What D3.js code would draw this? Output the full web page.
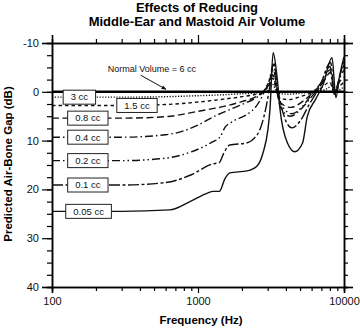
<!DOCTYPE html>
<html>
<head>
<meta charset="utf-8">
<script src="https://cdn.jsdelivr.net/npm/d3@7"></script>
<style>
  body { margin: 0; background: #fff; }
  svg { display: block; font-family: 'Liberation Sans', Arial, Helvetica, sans-serif; }
</style>
</head>
<body>
<div id="chart"></div>
<script>
// volumes, top to bottom
const volumes = ['3 cc', '1.5 cc', '0.8 cc', '0.4 cc', '0.2 cc', '0.1 cc', '0.05 cc']

// [frequency Hz, air-bone gap dB]
const gap3cc = [
  [100, 1.1], [300, 1.1], [600, 1.0], [1000, 0.8], [1500, 0.6], [2000, 0.4],
  [2600, 0.2], [2900, 0], [3100, -0.6], [3250, -1.5], [3400, -0.4], [3600, 0.3],
  [4200, 0.5], [5000, 0.3], [6000, 0], [7500, -0.5], [8300, -1.2], [8800, -0.2],
  [10000, -1]
]
const gap1p5cc = [
  [100, 2.8], [300, 2.8], [600, 2.6], [1000, 2.1], [1500, 1.5], [2000, 1.0],
  [2600, 0.3], [2900, -0.5], [3100, -1.4], [3250, -2.8], [3400, -1], [3600, 1.2],
  [4200, 1.6], [5000, 1.0], [6000, 0.2], [7000, -0.8], [8000, -2], [8500, 0],
  [9200, -1], [10000, -2]
]
const gap0p8cc = [
  [100, 5.4], [300, 5.4], [600, 5.1], [1000, 4.0], [1500, 3.0], [2000, 2.0],
  [2500, 1.0], [2900, -0.5], [3100, -1.8], [3250, -3.5], [3400, -1.5], [3600, 2],
  [4300, 3.2], [5200, 2.0], [6200, 0], [7200, -2], [8100, -4], [8600, 0],
  [9300, -2], [10000, -3]
]
const gap0p4cc = [
  [100, 9.3], [300, 9.3], [600, 8.8], [800, 8], [1000, 6.8], [1300, 5],
  [1600, 3.8], [2000, 2.6], [2500, 1.2], [2800, 0], [3050, -2], [3300, -4.5],
  [3450, -1], [3650, 3], [4300, 5], [5200, 3.2], [6000, 1], [7000, -1.5],
  [8000, -4.5], [8600, 0], [9400, -3], [10000, -4.5]
]
const gap0p2cc = [
  [100, 14.1], [300, 14.1], [600, 13.6], [900, 12.3], [1250, 10.3], [1420, 9.2],
  [1530, 7.3], [1700, 6.2], [2150, 4.7], [2500, 3.0], [2800, 0.5], [3050, -2],
  [3300, -5.5], [3450, -1], [3700, 2.5], [4400, 4.5], [5200, 3], [6000, 0.5],
  [7000, -2], [8000, -5.2], [8600, 0.5], [9400, -3.5], [10000, -5.5]
]
const gap0p1cc = [
  [100, 19.1], [300, 19.1], [600, 18.6], [900, 17], [1250, 14.8], [1400, 14.5],
  [1500, 12.6], [1650, 10.9], [2150, 10.5], [2450, 9.4], [2650, 7.8], [2900, 3.7],
  [3100, -1], [3300, -6], [3500, -1], [3800, 4], [4400, 7.4], [5000, 6],
  [5800, 2.5], [6800, -1], [8100, -6], [8600, 0.5], [9500, -4], [10000, -6.5]
]
const gap0p05cc = [
  [100, 24.5], [300, 24.5], [640, 24.2], [880, 22.5], [1150, 20.8], [1270, 20.4],
  [1400, 20.4], [1530, 17.8], [1650, 16.6], [2170, 16.2], [2540, 15.2], [2790, 12.5],
  [3010, 7.8], [3110, 3.7], [3270, -8], [3480, -3], [3650, 3.7], [4100, 10.5],
  [4600, 12.3], [5200, 10.5], [5600, 5.1], [6400, 1.5], [7200, -1.5], [8280, -7],
  [8800, 1.2], [9300, -3], [10000, -7.2]
]
const gapNormal = [[100, 0], [10000, 0]]

const series = [gap3cc, gap1p5cc, gap0p8cc, gap0p4cc, gap0p2cc, gap0p1cc, gap0p05cc]

// where along each curve the label box sits (Hz)
const labelFreqs = [154, 382, 176, 176, 176, 176, 178]

const xMajorTicks = [100, 1000, 10000]
const xMinorTicks = [200, 300, 400, 500, 600, 700, 800, 900, 2000, 3000, 4000, 5000, 6000, 7000, 8000, 9000]
const yMajorTicks = [-10, 0, 10, 20, 30, 40]
const yMinorTicks = d3.range(-10, 40.1, 2.5)

const dashes = ['1.2,1.6', '3.5,3', '7,3.5', '8,3,1.5,3', '8,3,1.5,3,1.5,3', '11,2.5,3,2.5', null]

const margin = { top: 43, left: 52, right: 16, bottom: 42 }
const width = 360 - margin.left - margin.right
const height = 329 - margin.top - margin.bottom

const svg = d3
  .select('#chart')
  .append('svg')
  .attr('width', 360)
  .attr('height', 329)

const holder = svg
  .append('g')
  .attr('transform', `translate(${margin.left},${margin.top})`)

const xScale = d3.scaleLog().domain([100, 10000]).range([0, width])
const yScale = d3.scaleLinear().domain([-10, 40]).range([0, height])

const line = d3
  .line()
  .x(d => xScale(d[0]))
  .y(d => yScale(d[1]))
  .curve(d3.curveMonotoneX)

// axes: minor ticks first, then majors with labels
function styleAxis(g) {
  g.selectAll('path').attr('stroke-width', 1.5)
  g.selectAll('line').attr('stroke-width', 1.2)
  g.selectAll('text')
    .attr('font-size', 11)
    .attr('font-family', 'Liberation Sans, Arial, sans-serif')
    .attr('fill', '#111')
}

holder.append('g')
  .call(d3.axisLeft(yScale).tickValues(yMinorTicks).tickSize(5).tickFormat(''))
  .call(styleAxis)
holder.append('g')
  .call(d3.axisLeft(yScale).tickValues(yMajorTicks).tickSize(10).tickPadding(3).tickFormat(d => String(d)))
  .call(styleAxis)

holder.append('g')
  .attr('transform', `translate(${width},0)`)
  .call(d3.axisRight(yScale).tickValues(yMinorTicks).tickSize(4).tickFormat(''))
  .call(styleAxis)
holder.append('g')
  .attr('transform', `translate(${width},0)`)
  .call(d3.axisRight(yScale).tickValues(yMajorTicks).tickSize(9).tickFormat(''))
  .call(styleAxis)

holder.append('g')
  .call(d3.axisTop(xScale).tickValues(xMinorTicks).tickSize(4).tickFormat(''))
  .call(styleAxis)
holder.append('g')
  .call(d3.axisTop(xScale).tickValues(xMajorTicks).tickSize(8).tickFormat(''))
  .call(styleAxis)

holder.append('g')
  .attr('transform', `translate(0,${height})`)
  .call(d3.axisBottom(xScale).tickValues(xMinorTicks).tickSize(4).tickFormat(''))
  .call(styleAxis)
holder.append('g')
  .attr('transform', `translate(0,${height})`)
  .call(d3.axisBottom(xScale).tickValues(xMajorTicks).tickSize(6).tickPadding(4).tickFormat(d3.format('d')))
  .call(styleAxis)

// curves
const curves = holder.append('g')

curves
  .selectAll('.gap-line')
  .data(series)
  .enter()
  .append('path')
  .attr('class', 'gap-line')
  .attr('d', line)
  .attr('fill', 'none')
  .attr('stroke', '#111')
  .attr('stroke-width', 1.4)
  .attr('stroke-dasharray', (d, i) => dashes[i])

curves
  .append('path')
  .datum(gapNormal)
  .attr('d', line)
  .attr('fill', 'none')
  .attr('stroke', '#000')
  .attr('stroke-width', 2.6)

// label boxes
const labels = holder
  .selectAll('.vol-label')
  .data(volumes)
  .enter()
  .append('g')
  .attr('class', 'vol-label')
  .attr('transform', (d, i) => {
    const f = labelFreqs[i]
    const y = yScale(series[i][0][1])
    return `translate(${xScale(f)},${y})`
  })

labels.append('rect')
labels
  .append('text')
  .text(d => d)
  .attr('font-size', 9.5)
  .attr('text-anchor', 'middle')
  .attr('dy', '0.35em')
  .attr('fill', '#111')

labels.each(function() {
  const g = d3.select(this)
  const w = g.select('text').node().getComputedTextLength() + 15
  g.select('rect')
    .attr('x', -w / 2)
    .attr('y', -7)
    .attr('width', w)
    .attr('height', 14)
    .attr('fill', '#fff')
    .attr('stroke', '#222')
    .attr('stroke-width', 1)
})

// normal volume note
holder
  .append('text')
  .text('Normal Volume = 6 cc')
  .attr('x', xScale(484))
  .attr('y', yScale(-4.7))
  .attr('dy', '0.35em')
  .attr('text-anchor', 'middle')
  .attr('font-size', 9)
  .attr('fill', '#111')

svg.append('defs')
  .append('marker')
  .attr('id', 'arrow')
  .attr('viewBox', '0 0 10 10')
  .attr('refX', 9)
  .attr('refY', 5)
  .attr('markerWidth', 5)
  .attr('markerHeight', 5)
  .attr('orient', 'auto')
  .append('path')
  .attr('d', 'M0,1 L10,5 L0,9 Z')
  .attr('fill', '#111')

holder
  .append('line')
  .attr('x1', xScale(405))
  .attr('y1', yScale(-3.4))
  .attr('x2', xScale(604))
  .attr('y2', yScale(-0.5))
  .attr('stroke', '#111')
  .attr('stroke-width', 1)
  .attr('marker-end', 'url(#arrow)')

// titles
svg
  .append('text')
  .text('Effects of Reducing')
  .attr('x', 197)
  .attr('y', 11.5)
  .attr('text-anchor', 'middle')
  .attr('font-size', 13)
  .attr('font-weight', 'bold')

svg
  .append('text')
  .text('Middle-Ear and Mastoid Air Volume')
  .attr('x', 197)
  .attr('y', 25.5)
  .attr('text-anchor', 'middle')
  .attr('font-size', 13)
  .attr('font-weight', 'bold')

svg
  .append('text')
  .text('Frequency (Hz)')
  .attr('x', 201)
  .attr('y', 324)
  .attr('text-anchor', 'middle')
  .attr('font-size', 11.5)
  .attr('font-weight', 'bold')

svg
  .append('text')
  .text('Predicted Air-Bone Gap (dB)')
  .attr('transform', 'translate(12,164) rotate(-90)')
  .attr('text-anchor', 'middle')
  .attr('font-size', 11.5)
  .attr('font-weight', 'bold')
</script>
</body>
</html>
